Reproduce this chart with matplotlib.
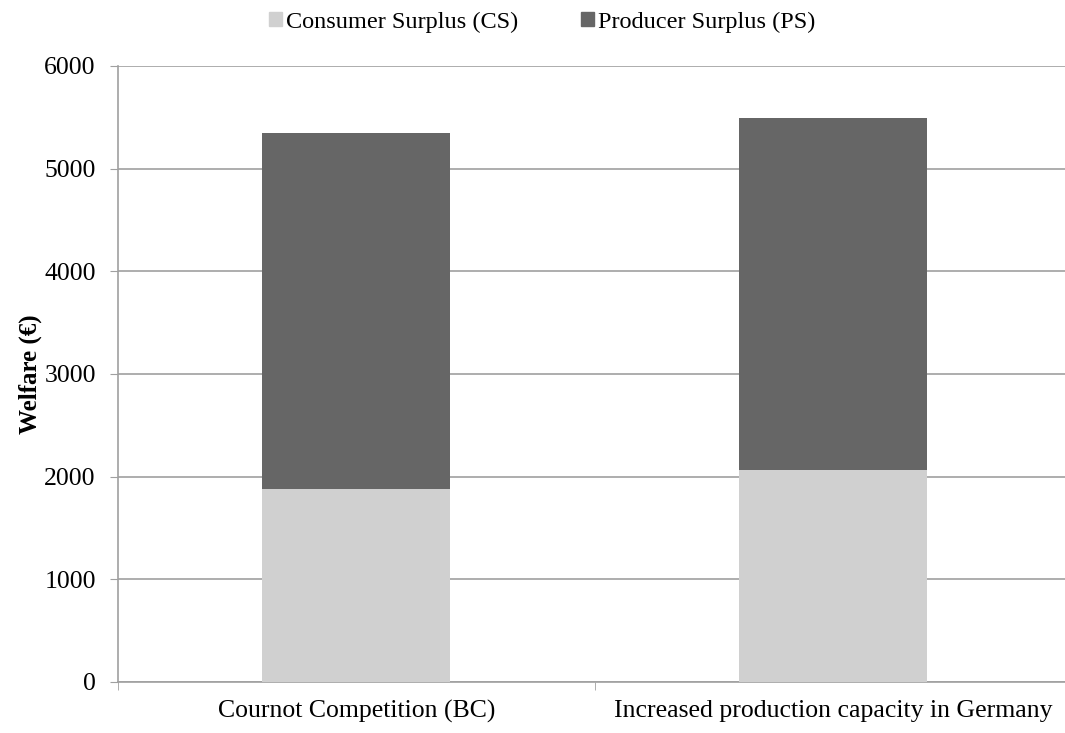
import matplotlib
matplotlib.use("Agg")
from matplotlib import pyplot as plt
from matplotlib.patches import Patch

categories = ["Cournot Competition (BC)", "Increased production capacity in Germany"]
consumer_surplus = [1882, 2061]
producer_surplus = [3467, 3434]
series_names = ["Consumer Surplus (CS)", "Producer Surplus (PS)"]
yticks = [0, 1000, 2000, 3000, 4000, 5000, 6000]

plt.rcParams["font.family"] = ["Liberation Serif", "DejaVu Serif"]

fig = plt.figure(figsize=(10.65, 7.33), dpi=100)
ax = fig.add_axes([0.1108, 0.0696, 0.8953, 0.8404])

cs_color = "#d0d0d0"
ps_color = "#666666"
x = range(len(categories))
ax.bar(x, consumer_surplus, width=0.394, color=cs_color, zorder=3)
ax.bar(x, producer_surplus, width=0.394, bottom=consumer_surplus, color=ps_color, zorder=3)

ax.set_xlim(-0.5, len(categories) - 0.5)
ax.set_ylim(0, 6000)
ax.set_yticks(yticks)
ax.set_yticklabels([str(v) for v in yticks], fontsize=18.5)
ax.yaxis.grid(True, color="#a0a0a0", linewidth=1.2, zorder=0)
ax.set_axisbelow(True)

ax.set_xticks(list(x))
ax.set_xticklabels(categories, fontsize=18.5)
ax.tick_params(axis="x", which="major", length=0, pad=13)
ax.set_xticks([-0.5, 0.5, 1.5], minor=True)
ax.tick_params(axis="x", which="minor", length=6, color="#a0a0a0")
ax.tick_params(axis="y", length=6, color="#a0a0a0", pad=10)

for side in ["top", "right"]:
    ax.spines[side].set_visible(False)
for side in ["left", "bottom"]:
    ax.spines[side].set_color("#a0a0a0")
    ax.spines[side].set_linewidth(1.2)

ax.set_ylabel("Welfare (€)", fontsize=18, fontweight="bold", labelpad=2)

handles = [Patch(color=cs_color), Patch(color=ps_color)]
fig.legend(handles, series_names, loc="center", bbox_to_anchor=(0.509, 0.97), ncol=2,
           frameon=False, fontsize=17.5, handlelength=0.55, handleheight=0.55,
           handletextpad=0.15, columnspacing=2.6)

fig.savefig("out.png", dpi=100)
